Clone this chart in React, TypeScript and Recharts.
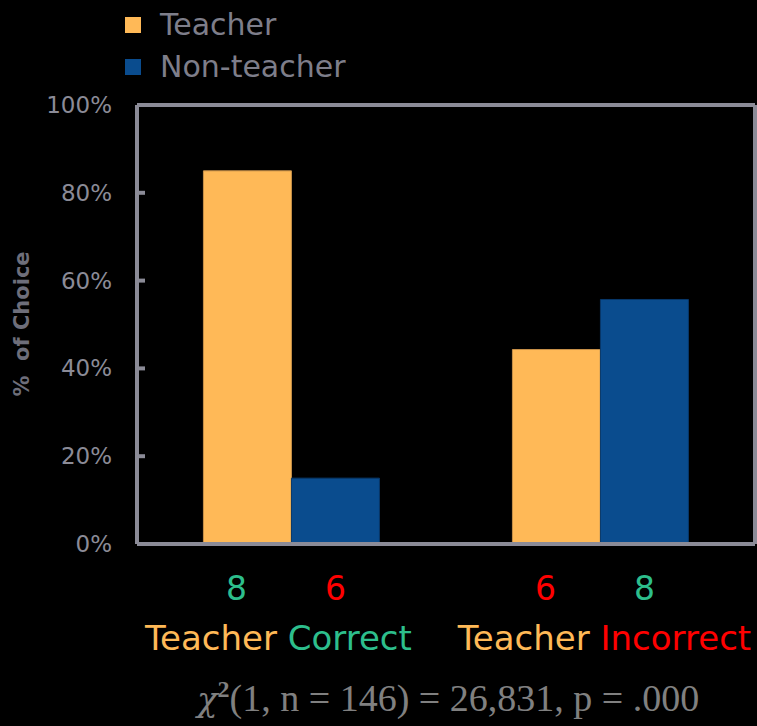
import React from 'react';
import { BarChart, Bar, XAxis, YAxis, Legend, LabelList } from 'recharts';

const categories = ['Teacher Correct', 'Teacher Incorrect'];
const teacherValues = [85, 44.3];
const nonTeacherValues = [15, 55.7];
const teacherAges = ['8', '6'];
const nonTeacherAges = ['6', '8'];
const yTicks = [0, 20, 40, 60, 80, 100];
const seriesNames = ['Teacher', 'Non-teacher'];
const statText = '(1, n = 146) = 26,831, p = .000';

const data = categories.map((c, i) => ({
  cat: c,
  teacher: teacherValues[i],
  nonTeacher: nonTeacherValues[i],
  tAge: teacherAges[i],
  nAge: nonTeacherAges[i],
}));

const ORANGE = '#FFB957';
const BLUE = '#0A4C8E';
const GREEN = '#2DBE8C';
const RED = '#FF0000';
const FRAME = '#8B8B97';
const TEXT_GRAY = '#7E7E8A';
const FONT = '"DejaVu Sans", sans-serif';
const CAT_DX = [-13, 4];

const ageColor = (v: string) => (v === '8' ? GREEN : RED);

const YTick = (props: any) => {
  const { x, y, payload } = props;
  return (
    <g>
      <line x1={x} x2={x + 8} y1={y} y2={y} stroke={FRAME} strokeWidth={4} />
      <text x={x - 25} y={y} dy={8} textAnchor="end" fontSize={23} fontFamily={FONT} fill={FRAME}>
        {`${payload.value}%`}
      </text>
    </g>
  );
};

const XTick = (props: any) => {
  const { x, y, payload, index } = props;
  const parts = String(payload.value).split(' ');
  const w1 = parts[0];
  const w2 = parts.slice(1).join(' ');
  return (
    <text x={x + (CAT_DX[index] || 0)} y={y + 106} textAnchor="middle" fontSize={34} fontFamily={FONT}>
      <tspan fill={ORANGE}>{w1 + '\u00a0'}</tspan>
      <tspan fill={w2 === 'Correct' ? GREEN : RED}>{w2}</tspan>
    </text>
  );
};

const makeAgeLabel = (dx: number) => (props: any) => {
  const { x, y, width, height, value } = props;
  return (
    <text
      x={x + width / 2 + dx}
      y={y + height + 56}
      textAnchor="middle"
      fontSize={33}
      fontFamily={FONT}
      fill={ageColor(String(value))}
    >
      {value}
    </text>
  );
};

const LegendContent = (props: any) => {
  const payload = [...(props.payload || [])].sort(
    (a: any, b: any) => seriesNames.indexOf(a.value) - seriesNames.indexOf(b.value)
  );
  return (
    <div>
      {payload.map((p: any, i: number) => (
        <div key={i} style={{ display: 'flex', alignItems: 'center', height: 42 }}>
          <div style={{ width: 16, height: 16, background: p.color, marginRight: 19 }} />
          <span style={{ fontSize: 30, fontFamily: FONT, color: TEXT_GRAY, lineHeight: '42px' }}>{p.value}</span>
        </div>
      ))}
    </div>
  );
};

const YLabel = () => (
  <text
    x={22}
    y={324}
    transform="rotate(-90, 22, 324)"
    textAnchor="middle"
    dominantBaseline="central"
    fontSize={21}
    fontWeight="bold"
    fontFamily={FONT}
    fill={'#6E6E7A'}
  >
    {'%\u00a0\u00a0of Choice'}
  </text>
);

export default function App() {
  return (
    <div style={{ position: 'absolute', left: 0, top: 0, width: 757, height: 726, background: '#000', overflow: 'hidden' }}>
      <BarChart
        width={757}
        height={726}
        data={data}
        margin={{ top: 104, right: 1, left: 77, bottom: 152 }}
        barCategoryGap="21.5%"
        barGap={0}
      >
        <XAxis
          dataKey="cat"
          axisLine={{ stroke: FRAME, strokeWidth: 4 }}
          tickLine={false}
          tickSize={0}
          tickMargin={0}
          height={30}
          tick={<XTick />}
          interval={0}
        />
        <XAxis xAxisId="top" dataKey="cat" orientation="top" height={1} tick={false} tickLine={false} axisLine={{ stroke: FRAME, strokeWidth: 4 }} />
        <YAxis
          domain={[0, 100]}
          ticks={yTicks}
          width={60}
          axisLine={{ stroke: FRAME, strokeWidth: 4 }}
          tickLine={false}
          tickSize={0}
          tickMargin={0}
          tick={<YTick />}
          interval={0}
          label={<YLabel />}
        />
        <YAxis yAxisId="right" orientation="right" domain={[0, 100]} width={1} tick={false} tickLine={false} axisLine={{ stroke: FRAME, strokeWidth: 4 }} />
        <Legend
          layout="horizontal"
          verticalAlign="middle"
          align="center"
          content={<LegendContent />}
          wrapperStyle={{ top: 4, left: 125, width: 300, height: 84 }}
        />
        <Bar dataKey="teacher" name={seriesNames[0]} fill={ORANGE} stroke="#C8914A" strokeWidth={1} isAnimationActive={false}>
          <LabelList dataKey="tAge" content={makeAgeLabel(-11)} />
        </Bar>
        <Bar dataKey="nonTeacher" name={seriesNames[1]} fill={BLUE} stroke="#08386A" strokeWidth={1} isAnimationActive={false}>
          <LabelList dataKey="nAge" content={makeAgeLabel(0)} />
        </Bar>
      </BarChart>
      <div
        style={{
          position: 'absolute',
          left: 197,
          top: 679,
          fontSize: 38,
          lineHeight: '38px',
          fontFamily: '"Liberation Serif", serif',
          color: '#808080',
          whiteSpace: 'nowrap',
        }}
      >
        <span style={{ fontFamily: '"DejaVu Serif", serif', fontStyle: 'italic', fontSize: 34 }}>χ</span>
        <span style={{ fontSize: 24, fontWeight: 'bold', position: 'relative', top: -14 }}>2</span>
        {statText}
      </div>
    </div>
  );
}
